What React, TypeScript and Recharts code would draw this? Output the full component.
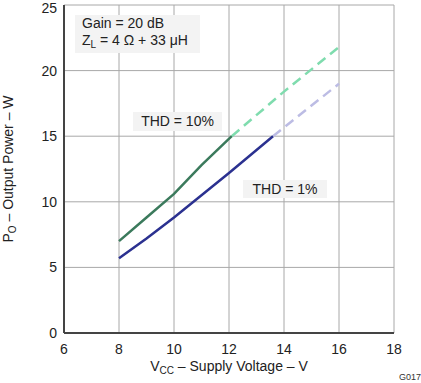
import { CartesianGrid, Line, LineChart, XAxis, YAxis } from "recharts";

// supply voltage (V) / output power (W)
const thd10SolidV = [8, 9, 10, 11, 12.1];
const thd10SolidP = [7.0, 8.8, 10.6, 12.8, 15.0];
const thd10DashV = [12.1, 14, 16];
const thd10DashP = [15.0, 18.4, 21.8];
const thd1SolidV = [8, 9, 10, 11, 12, 13.6];
const thd1SolidP = [5.7, 7.2, 8.8, 10.5, 12.2, 15.0];
const thd1DashV = [13.6, 16];
const thd1DashP = [15.0, 19.0];

const xTicks = [6, 8, 10, 12, 14, 16, 18];
const yTicks = [0, 5, 10, 15, 20, 25];

const font = '"Liberation Sans", Arial, sans-serif';
const frame = { stroke: "#444", strokeWidth: 2 };

function zip(v: number[], p: number[]) {
  return v.map((x, i) => ({ v: x, p: p[i] }));
}

const thd10Solid = zip(thd10SolidV, thd10SolidP);
const thd10Dash = zip(thd10DashV, thd10DashP);
const thd1Solid = zip(thd1SolidV, thd1SolidP);
const thd1Dash = zip(thd1DashV, thd1DashP);

const boxStyle: React.CSSProperties = {
  position: "absolute",
  background: "#f3f3f3",
  fontFamily: font,
  fontSize: 14,
  color: "#222",
  lineHeight: "17px",
  whiteSpace: "nowrap",
};

export default function App() {
  return (
    <div style={{ position: "relative", width: 421, height: 383, background: "#fff" }}>
      <style>{`body{margin:0}`}</style>
      <LineChart
        width={421}
        height={383}
        margin={{ top: 5, right: 27, bottom: 0, left: 0 }}
        style={{ fontFamily: font }}
      >
        <CartesianGrid stroke="#a8a8a8" strokeWidth={1} />
        <XAxis
          dataKey="v"
          type="number"
          domain={[6, 18]}
          ticks={xTicks}
          allowDuplicatedCategory={false}
          tickLine={false}
          axisLine={frame}
          tickSize={0}
          tickMargin={11}
          height={50}
          tick={{ fill: "#222", fontSize: 14 }}
          label={{
            content: () => (
              <text x={229} y={371} textAnchor="middle" fontSize={14} fill="#222" fontFamily={font}>
                V<tspan fontSize={10} dy={3}>CC</tspan>
                <tspan dy={-3}> – Supply Voltage – V</tspan>
              </text>
            ),
          }}
        />
        <XAxis
          xAxisId="top"
          orientation="top"
          type="number"
          domain={[6, 18]}
          ticks={xTicks}
          height={0}
          tick={false}
          tickLine={false}
          axisLine={frame}
        />
        <YAxis
          dataKey="p"
          type="number"
          domain={[0, 25]}
          ticks={yTicks}
          tickLine={false}
          axisLine={frame}
          tickSize={0}
          tickMargin={7}
          width={64}
          tick={{ fill: "#222", fontSize: 14 }}
          label={{
            content: () => (
              <text
                x={13}
                y={169}
                textAnchor="middle"
                fontSize={14}
                fill="#222"
                fontFamily={font}
                transform="rotate(-90 13 169)"
              >
                P<tspan fontSize={10} dy={3}>O</tspan>
                <tspan dy={-3}> – Output Power – W</tspan>
              </text>
            ),
          }}
        />
        <YAxis
          yAxisId="right"
          orientation="right"
          type="number"
          domain={[0, 25]}
          ticks={yTicks}
          width={0}
          tick={false}
          tickLine={false}
          axisLine={frame}
        />
        <Line data={thd10Dash} dataKey="p" stroke="#7fdcae" strokeWidth={2.5} strokeDasharray="10 6" dot={false} isAnimationActive={false} />
        <Line data={thd1Dash} dataKey="p" stroke="#bcbce4" strokeWidth={2.5} strokeDasharray="10 6" dot={false} isAnimationActive={false} />
        <Line data={thd10Solid} dataKey="p" stroke="#3b7a5c" strokeWidth={2.5} dot={false} isAnimationActive={false} />
        <Line data={thd1Solid} dataKey="p" stroke="#2b3190" strokeWidth={2.5} dot={false} isAnimationActive={false} />
      </LineChart>
      <div style={{ ...boxStyle, left: 75, top: 15, width: 125, height: 38, paddingLeft: 7, boxSizing: "border-box" }}>
        Gain = 20 dB
        <br />
        Z<sub style={{ fontSize: 10, verticalAlign: "-3px", lineHeight: 0 }}>L</sub> = 4 Ω + 33 μH
      </div>
      <div style={{ ...boxStyle, left: 133, top: 112, width: 89, height: 19, textAlign: "center", lineHeight: "19px" }}>
        THD = 10%
      </div>
      <div style={{ ...boxStyle, left: 243, top: 180, width: 84, height: 18, textAlign: "center", lineHeight: "18px" }}>
        THD = 1%
      </div>
      <div style={{ position: "absolute", left: 399, top: 372, fontFamily: font, fontSize: 9, color: "#333" }}>G017</div>
    </div>
  );
}
